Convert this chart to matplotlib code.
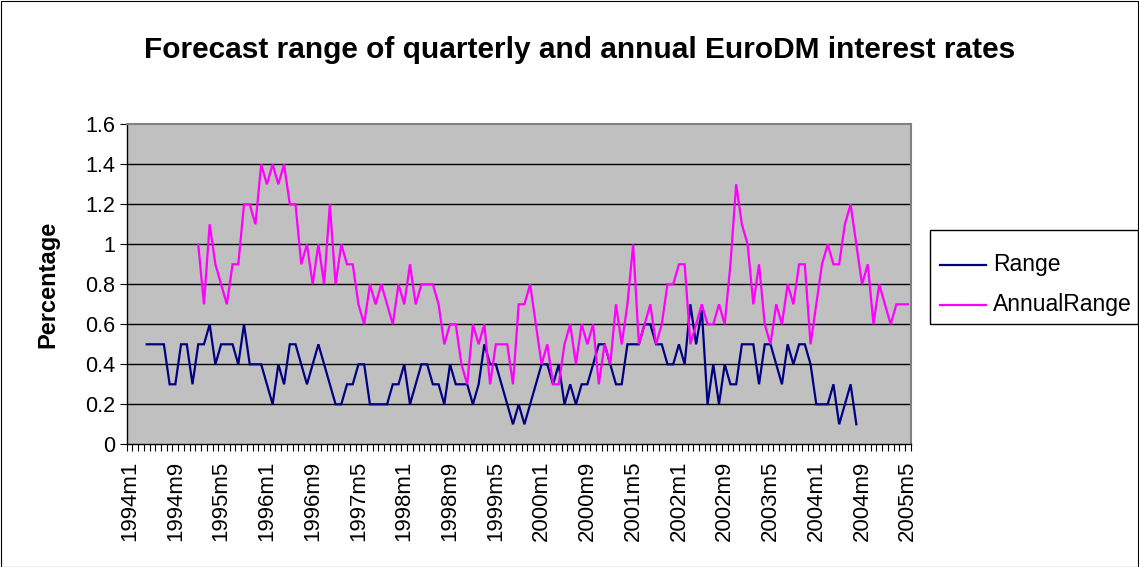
import numpy as np
import matplotlib
matplotlib.use("Agg")
import matplotlib.pyplot as plt
from matplotlib.patches import Rectangle
from matplotlib.lines import Line2D

# ---- data ----
start_year, start_month = 1994, 1
n_months = 137  # 1994m1 .. 2005m5
months = [f"{start_year + (start_month - 1 + k) // 12}m{(start_month - 1 + k) % 12 + 1}" for k in range(n_months)]

range_start = 3  # first observation index (1994m4)
range_vals = [0.5, 0.5, 0.5, 0.5, 0.3, 0.3, 0.5, 0.5, 0.3, 0.5,
              0.5, 0.6, 0.4, 0.5, 0.5, 0.5, 0.4, 0.6, 0.4, 0.4,
              0.4, 0.3, 0.2, 0.4, 0.3, 0.5, 0.5, 0.4, 0.3, 0.4,
              0.5, 0.4, 0.3, 0.2, 0.2, 0.3, 0.3, 0.4, 0.4, 0.2,
              0.2, 0.2, 0.2, 0.3, 0.3, 0.4, 0.2, 0.3, 0.4, 0.4,
              0.3, 0.3, 0.2, 0.4, 0.3, 0.3, 0.3, 0.2, 0.3, 0.5,
              0.4, 0.4, 0.3, 0.2, 0.1, 0.2, 0.1, 0.2, 0.3, 0.4,
              0.4, 0.3, 0.4, 0.2, 0.3, 0.2, 0.3, 0.3, 0.4, 0.5,
              0.5, 0.4, 0.3, 0.3, 0.5, 0.5, 0.5, 0.6, 0.6, 0.5,
              0.5, 0.4, 0.4, 0.5, 0.4, 0.7, 0.5, 0.67, 0.2, 0.4,
              0.2, 0.4, 0.3, 0.3, 0.5, 0.5, 0.5, 0.3, 0.5, 0.5,
              0.4, 0.3, 0.5, 0.4, 0.5, 0.5, 0.4, 0.2, 0.2, 0.2,
              0.3, 0.1, 0.2, 0.3, 0.1]

annual_start = 12  # first observation index (1995m1)
annual_vals = [1.0, 0.7, 1.1, 0.9, 0.8, 0.7, 0.9, 0.9, 1.2, 1.2,
               1.1, 1.4, 1.3, 1.4, 1.3, 1.4, 1.2, 1.2, 0.9, 1.0,
               0.8, 1.0, 0.8, 1.2, 0.8, 1.0, 0.9, 0.9, 0.7, 0.6,
               0.8, 0.7, 0.8, 0.7, 0.6, 0.8, 0.7, 0.9, 0.7, 0.8,
               0.8, 0.8, 0.7, 0.5, 0.6, 0.6, 0.4, 0.3, 0.6, 0.5,
               0.6, 0.3, 0.5, 0.5, 0.5, 0.3, 0.7, 0.7, 0.8, 0.6,
               0.4, 0.5, 0.3, 0.3, 0.5, 0.6, 0.4, 0.6, 0.5, 0.6,
               0.3, 0.5, 0.4, 0.7, 0.5, 0.7, 1.0, 0.5, 0.6, 0.7,
               0.5, 0.6, 0.8, 0.8, 0.9, 0.9, 0.5, 0.6, 0.7, 0.6,
               0.6, 0.7, 0.6, 0.9, 1.3, 1.1, 1.0, 0.7, 0.9, 0.6,
               0.5, 0.7, 0.6, 0.8, 0.7, 0.9, 0.9, 0.5, 0.7, 0.9,
               1.0, 0.9, 0.9, 1.1, 1.2, 1.0, 0.8, 0.9, 0.6, 0.8,
               0.7, 0.6, 0.7, 0.7, 0.7]

yticks = [0, 0.2, 0.4, 0.6, 0.8, 1, 1.2, 1.4, 1.6]
ytick_labels = ["0", "0.2", "0.4", "0.6", "0.8", "1", "1.2", "1.4", "1.6"]
label_step = 8

series_names = ["Range", "AnnualRange"]
series_colors = ["#000080", "#FF00FF"]
title = "Forecast range of quarterly and annual EuroDM interest rates"
ylabel = "Percentage"

# ---- plot ----
plt.rcParams['font.family'] = ['Liberation Sans', 'DejaVu Sans']

W, H = 1139, 567
fig = plt.figure(figsize=(W / 100, H / 100), dpi=100)
fig.patch.set_facecolor("white")
fig.add_artist(Rectangle((0.5 / W, 0.5 / H), 1 - 1.5 / W, 1 - 1.5 / H, transform=fig.transFigure,
                         fill=False, edgecolor="black", linewidth=0.8))

ax = fig.add_axes([126.7 / W, 1 - 444.3 / H, 784 / W, 320 / H])
ax.set_facecolor("#C0C0C0")

x_range = np.arange(range_start, range_start + len(range_vals))
x_annual = np.arange(annual_start, annual_start + len(annual_vals))
ax.plot(x_range, range_vals, color=series_colors[0], linewidth=1.6, solid_joinstyle="miter")
ax.plot(x_annual, annual_vals, color=series_colors[1], linewidth=1.6, solid_joinstyle="miter")

ax.set_xlim(-0.5, n_months - 0.5)
ax.set_ylim(0, 1.6)
ax.set_yticks(yticks)
ax.set_yticklabels(ytick_labels, fontsize=15.5)
for y in yticks[1:-1]:
    ax.axhline(y, color="black", linewidth=1.0, zorder=0.5)

label_pos = list(range(0, n_months, label_step))
ax.set_xticks(label_pos)
ax.set_xticklabels([months[k] for k in label_pos], rotation=90, fontsize=16)
ax.tick_params(axis="x", length=0, pad=12)
ax.set_xticks(np.arange(-0.5, n_months, 1.0), minor=True)
ax.tick_params(axis="x", which="minor", length=5, width=0.8, direction="out", color="black")
ax.tick_params(axis="y", length=5, width=0.8, direction="out", pad=3)

for side in ["top", "right"]:
    ax.spines[side].set_color("#808080")
    ax.spines[side].set_linewidth(1.5)
for side in ["left", "bottom"]:
    ax.spines[side].set_color("black")
    ax.spines[side].set_linewidth(1.0)

ax.set_ylabel(ylabel, fontsize=17, fontweight="bold", labelpad=19)
fig.text(580 / W, 1 - 50 / H, title, fontsize=21.5, fontweight="bold", ha="center", va="center")

# legend box (drawn in figure pixel coordinates)
def fx(px):
    return px / W

def fy(py):
    return 1 - py / H

fig.add_artist(Rectangle((fx(930), fy(324)), fx(1138) - fx(930), fy(230) - fy(324),
                         transform=fig.transFigure, facecolor="white", edgecolor="black", linewidth=1.0))
for k, (name, col) in enumerate(zip(series_names, series_colors)):
    yy = 265 + 40 * k
    fig.add_artist(Line2D([fx(940), fx(986)], [fy(yy), fy(yy)], transform=fig.transFigure,
                          color=col, linewidth=1.6))
    fig.text(fx(993), fy(yy), name, fontsize=16.5, ha="left", va="center")

fig.savefig("out.png", dpi=100)
